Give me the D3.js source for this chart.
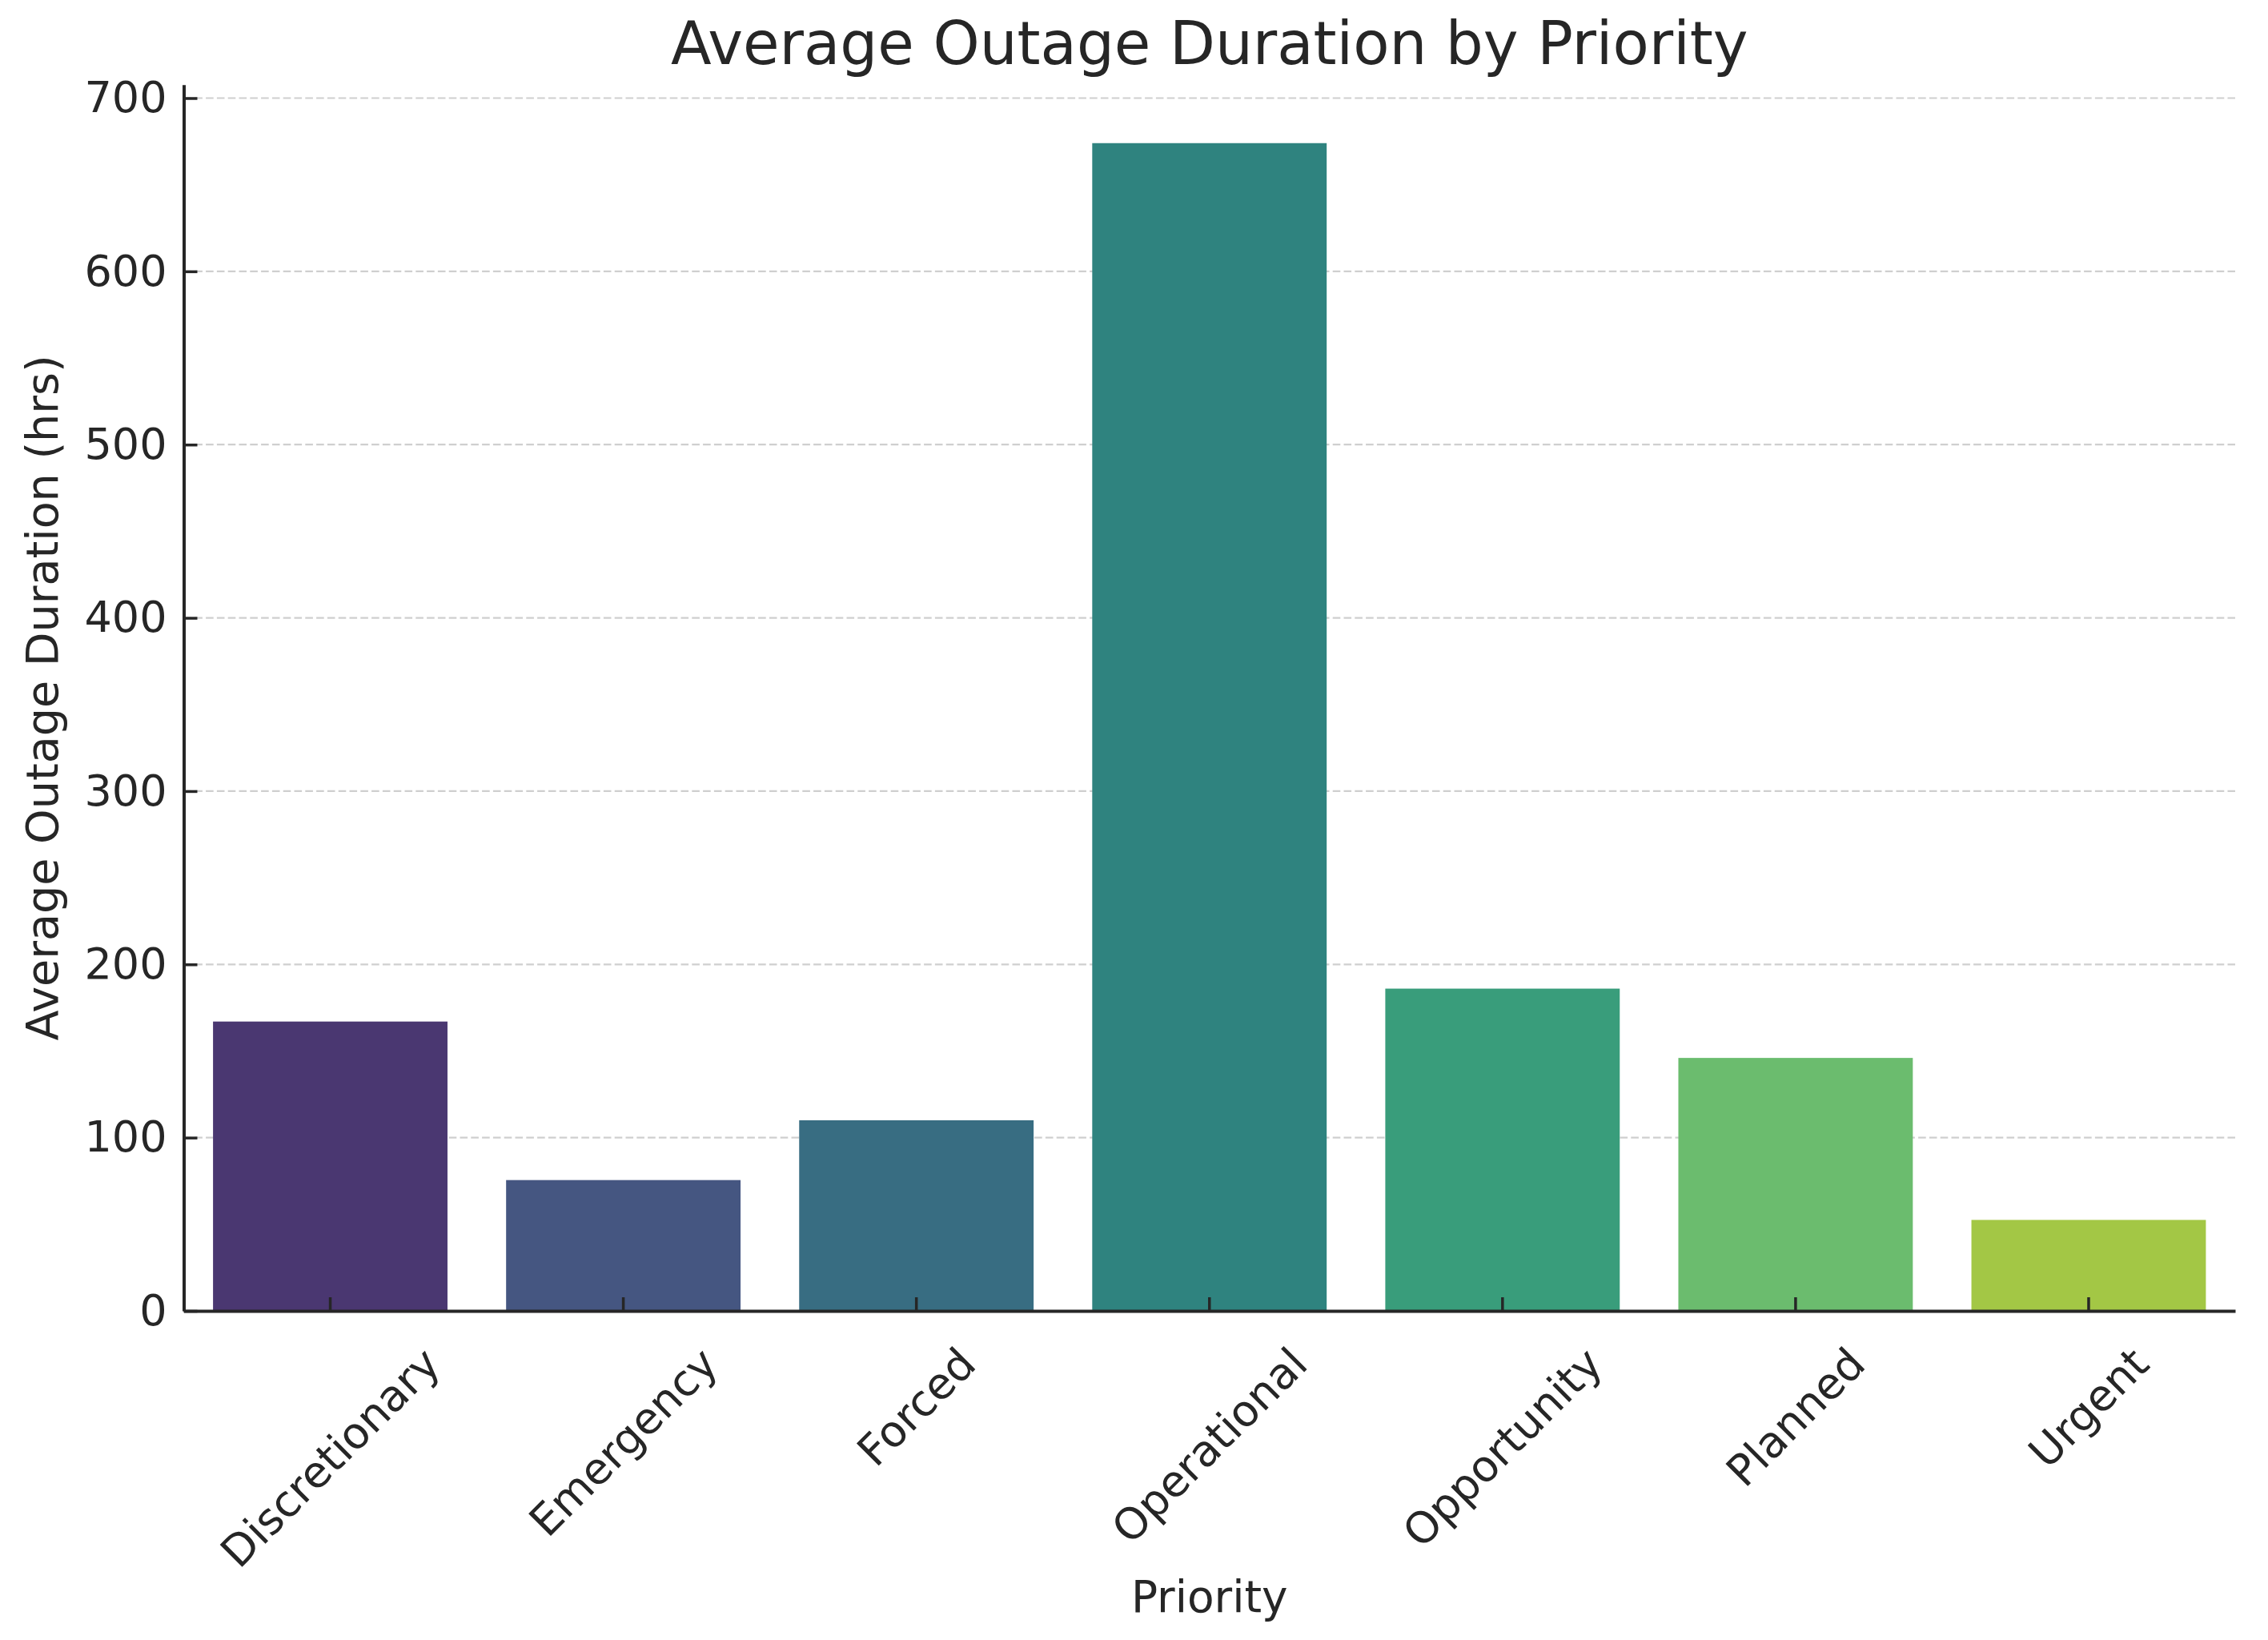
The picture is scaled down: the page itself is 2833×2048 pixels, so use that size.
<!DOCTYPE html>
<html>
<head>
<meta charset="utf-8">
<script src="https://cdn.jsdelivr.net/npm/d3@7"></script>
<style>
  html, body { margin: 0; padding: 0; background: #ffffff; }
  svg { display: block; }
</style>
</head>
<body>
<svg id="chart" width="2833" height="2048"></svg>
<script>
// ---- data ----
const categories = ["Discretionary", "Emergency", "Forced", "Operational", "Opportunity", "Planned", "Urgent"];
const durations = [167, 75.5, 110, 674, 186, 146, 52.5];
const yTicks = [0, 100, 200, 300, 400, 500, 600, 700];
const titleText = "Average Outage Duration by Priority";
const xLabelText = "Priority";
const yLabelText = "Average Outage Duration (hrs)";

// ---- layout ----
const W = 2833, H = 2048;
const plotLeft = 229.5, plotRight = 2792, plotBottom = 1637;
const yMax = d3.max(durations) * 1.05;
const pxPerUnit = (1637 - 122.5) / 700;
const plotTop = plotBottom - yMax * pxPerUnit;
const font = "'DejaVu Sans', 'Liberation Sans', sans-serif";
const textColor = "#262626";
const tickFont = 54;

const svg = d3.select("#chart");
svg.append("rect").attr("width", W).attr("height", H).attr("fill", "#ffffff");

const x = d3.scaleBand().domain(categories).range([plotLeft, plotRight])
  .paddingInner(0.2).paddingOuter(0.1).align(0.5);
const y = d3.scaleLinear().domain([0, yMax]).range([plotBottom, plotTop]);

// colours: viridis sampled like seaborn, desaturated (saturation 0.75)
const colors = categories.map((c, i) => {
  const col = d3.hsl(d3.interpolateViridis((i + 1) / (categories.length + 1)));
  col.s *= 0.75;
  return col.formatHex();
});

// grid
svg.append("g").selectAll("line").data(yTicks).join("line")
  .attr("x1", plotLeft).attr("x2", plotRight)
  .attr("y1", d => y(d)).attr("y2", d => y(d))
  .attr("stroke", "#cfcfcf").attr("stroke-width", 2.2)
  .attr("stroke-dasharray", "9.6,4.2");

// bars
svg.append("g").selectAll("rect").data(categories).join("rect")
  .attr("x", d => x(d))
  .attr("width", x.bandwidth())
  .attr("y", (d, i) => y(durations[i]))
  .attr("height", (d, i) => plotBottom - y(durations[i]))
  .attr("fill", (d, i) => colors[i]);

// y axis
const yAxis = svg.append("g").attr("transform", `translate(${plotLeft},0)`)
  .call(d3.axisLeft(y).tickValues(yTicks).tickSizeInner(-17).tickSizeOuter(0).tickPadding(21));
yAxis.selectAll("text").attr("font-family", font).attr("font-size", tickFont).attr("fill", textColor);

// x axis
const xAxis = svg.append("g").attr("transform", `translate(0,${plotBottom})`)
  .call(d3.axisBottom(x).tickSizeInner(-17).tickSizeOuter(0));

[yAxis, xAxis].forEach(a => {
  a.select(".domain").attr("stroke", textColor).attr("stroke-width", 4);
  a.selectAll(".tick line").attr("stroke", textColor).attr("stroke-width", 3.5);
});

// rotated x tick labels (centered on tick, 45 degrees)
xAxis.selectAll(".tick text")
  .attr("font-family", font).attr("font-size", tickFont).attr("fill", textColor)
  .attr("text-anchor", "middle").attr("x", 0).attr("y", 0).attr("dy", "0.346em")
  .each(function () {
    const w = this.getComputedTextLength();
    const h = tickFont * 1.164;
    const off = 34 + (w + h) * Math.SQRT1_2 / 2;
    d3.select(this).attr("transform", `translate(0,${off}) rotate(-45)`);
  });

// title
svg.append("text")
  .attr("x", (plotLeft + plotRight) / 2).attr("y", 80)
  .attr("text-anchor", "middle")
  .attr("font-family", font).attr("font-size", 74).attr("fill", textColor)
  .text(titleText);

// x label
svg.append("text")
  .attr("x", (plotLeft + plotRight) / 2).attr("y", 2013)
  .attr("text-anchor", "middle")
  .attr("font-family", font).attr("font-size", 55).attr("fill", textColor)
  .text(xLabelText);

// y label
svg.append("text")
  .attr("transform", `translate(72,${(plotTop + plotBottom) / 2}) rotate(-90)`)
  .attr("text-anchor", "middle")
  .attr("font-family", font).attr("font-size", 55.5).attr("fill", textColor)
  .text(yLabelText);
</script>
</body>
</html>
